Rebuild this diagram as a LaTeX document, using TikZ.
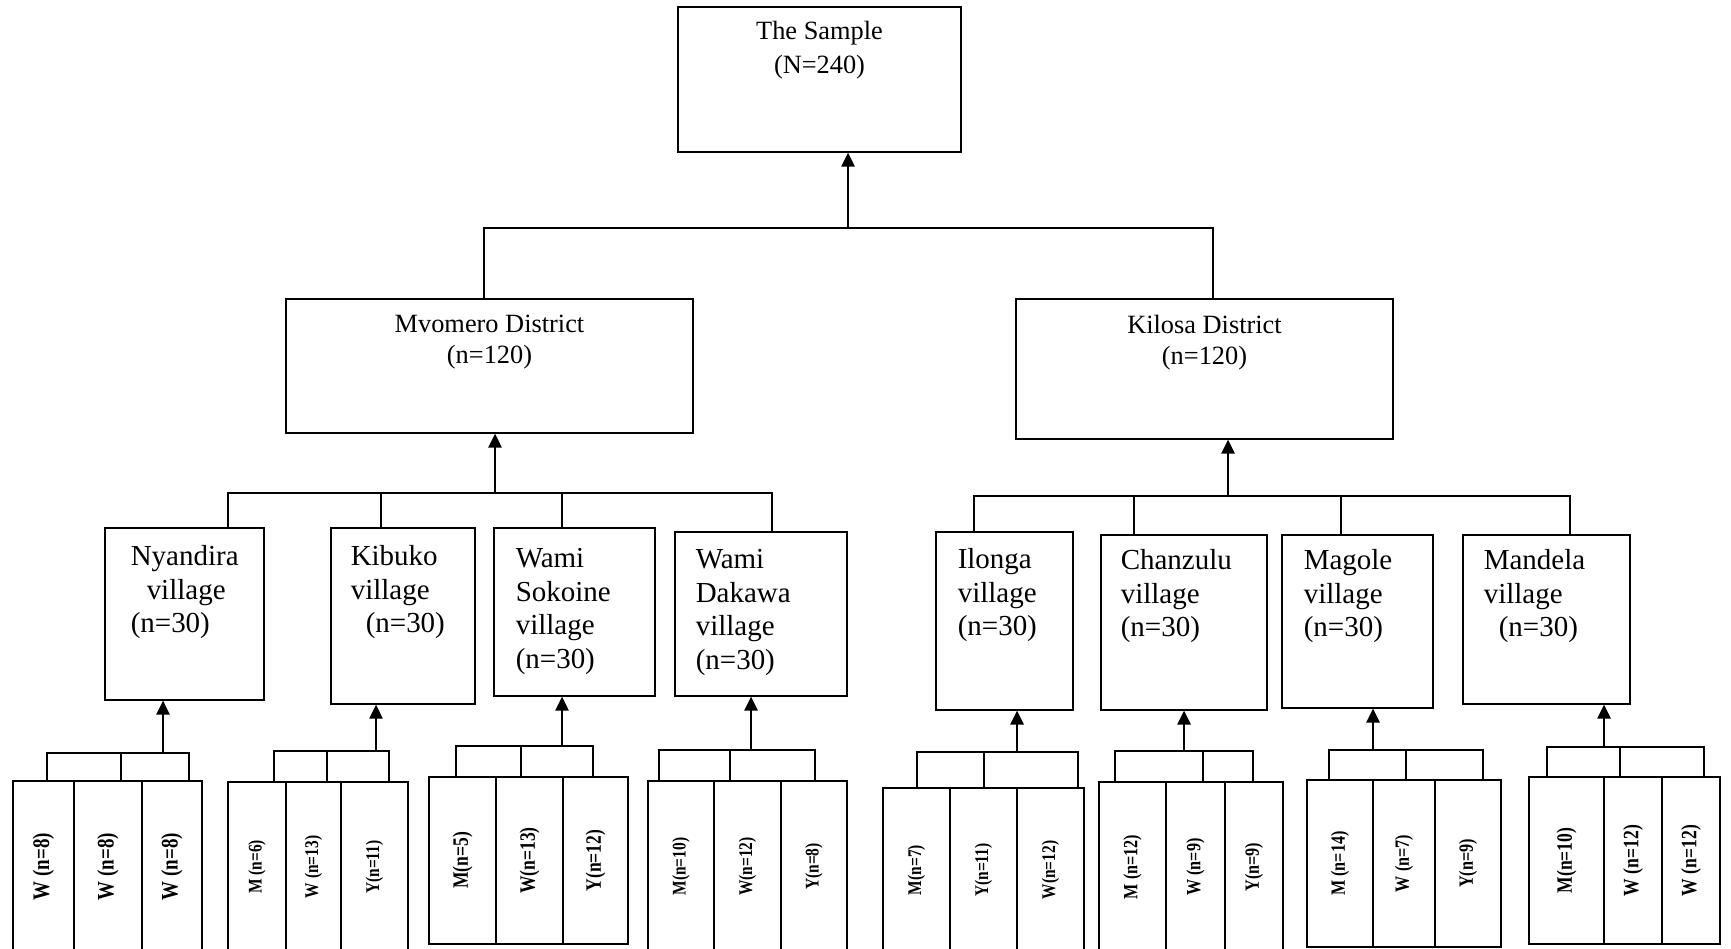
\documentclass[tikz,border=0pt]{standalone}
\usepackage{fontspec}
\setmainfont{Liberation Serif}
\newfontfamily\leaffont[FakeStretch=0.8]{Liberation Serif}
\usetikzlibrary{arrows.meta}
\tikzset{
  box/.style={draw, line width=0.7pt, inner sep=0pt},
  lf/.style={font=\leaffont\bfseries\fontsize{#1}{#1}\selectfont},
  leaf/.style 2 args={box, rotate=90, minimum width=#1cm, minimum height=#2cm, lf=12.5},
  toptext/.style={align=center, inner sep=0pt, anchor=north, font=\fontsize{15}{19.5}\selectfont},
  distext/.style={align=center, inner sep=0pt, anchor=north, font=\fontsize{15}{18}\selectfont},
  vtext/.style={align=left, inner sep=0pt, anchor=north west, font=\fontsize{16.5}{19}\selectfont},
  link/.style={line width=0.8pt},
  leaflink/.style={line width=1.1pt},
  uparrow/.style={line width=1.4pt, -{Triangle[length=8pt,width=7.5pt]}},
}
\begin{document}
\begin{tikzpicture}[x=0.02cm, y=-0.02cm]
  \clip (0,0) rectangle (1731,949);
  % sample and districts
  \node[box, minimum width=5.66cm, minimum height=2.90cm] (sample) at (819.5,79.5) {};
  \node[toptext] (sample-t) at ([yshift=-0.28cm]sample.north) {The Sample\\(N=240)};
  \node[box, minimum width=8.14cm, minimum height=2.68cm] (mvo) at (489.5,366) {};
  \node[distext] (mvo-t) at ([yshift=-0.32cm]mvo.north) {Mvomero District\\(n=120)};
  \node[box, minimum width=7.54cm, minimum height=2.80cm] (kil) at (1204.5,369) {};
  \node[distext] (kil-t) at ([yshift=-0.32cm]kil.north) {Kilosa District\\(n=120)};
  % villages
  \node[box, minimum width=3.18cm, minimum height=3.44cm] (nya) at (184.5,614) {};
  \node[box, minimum width=2.88cm, minimum height=3.52cm] (kib) at (403,616) {};
  \node[box, minimum width=3.22cm, minimum height=3.36cm] (wso) at (574.5,612) {};
  \node[box, minimum width=3.44cm, minimum height=3.28cm] (wda) at (761,614) {};
  \node[box, minimum width=2.74cm, minimum height=3.56cm] (ilo) at (1004.5,621) {};
  \node[box, minimum width=3.32cm, minimum height=3.50cm] (cha) at (1184,622.5) {};
  \node[box, minimum width=3.02cm, minimum height=3.46cm] (mag) at (1357.5,621.5) {};
  \node[box, minimum width=3.34cm, minimum height=3.38cm] (man) at (1546.5,619.5) {};
  \node[vtext] (nya-t) at ([shift={(26,18)}]nya.north west) {Nyandira\\\hspace*{0.32cm}village\\(n=30)};
  \node[vtext] (kib-t) at ([shift={(20,18)}]kib.north west) {Kibuko\\village\\\hspace*{0.3cm}(n=30)};
  \node[vtext] (wso-t) at ([shift={(22,21)}]wso.north west) {Wami\\Sokoine\\village\\(n=30)};
  \node[vtext] (wda-t) at ([shift={(21,18)}]wda.north west) {Wami\\Dakawa\\village\\(n=30)};
  \node[vtext] (ilo-t) at ([shift={(22,17)}]ilo.north west) {Ilonga\\village\\(n=30)};
  \node[vtext] (cha-t) at ([shift={(20,15)}]cha.north west) {Chanzulu\\village\\(n=30)};
  \node[vtext] (mag-t) at ([shift={(22,15)}]mag.north west) {Magole\\village\\(n=30)};
  \node[vtext] (man-t) at ([shift={(21,15)}]man.north west) {Mandela\\village\\\hspace*{0.3cm}(n=30)};
  % groups
  \node[leaf={3.42}{1.22}, lf=13.5] (l1a) at (43.5,866.5) {W (n=8)};
  \node[leaf={3.42}{1.36}, lf=13.5] (l1b) at (108,866.5) {W (n=8)};
  \node[leaf={3.42}{1.20}, lf=13.5] (l1c) at (172,866.5) {W (n=8)};
  \node[leaf={3.40}{1.16}, lf=11] (l2a) at (257,867) {M (n=6)};
  \node[leaf={3.40}{1.10}, lf=11] (l2b) at (313.5,867) {W (n=13)};
  \node[leaf={3.40}{1.34}, lf=11] (l2c) at (374.5,867) {Y(n=11)};
  \node[leaf={3.34}{1.34}] (l3a) at (462.5,860.5) {M(n=5)};
  \node[leaf={3.34}{1.34}] (l3b) at (529.5,860.5) {W(n=13)};
  \node[leaf={3.34}{1.30}] (l3c) at (595.5,860.5) {Y(n=12)};
  \node[leaf={3.42}{1.32}, lf=11] (l4a) at (681,866.5) {M(n=10)};
  \node[leaf={3.42}{1.34}, lf=11] (l4b) at (747.5,866.5) {W(n=12)};
  \node[leaf={3.42}{1.32}, lf=11] (l4c) at (814,866.5) {Y(n=8)};
  \node[leaf={3.28}{1.34}, lf=11] (l5a) at (916.5,870) {M(n=7)};
  \node[leaf={3.28}{1.34}, lf=11] (l5b) at (983.5,870) {Y(n=11)};
  \node[leaf={3.28}{1.34}, lf=11] (l5c) at (1050.5,870) {W(n=12)};
  \node[leaf={3.40}{1.34}, lf=11.5] (l6a) at (1132.5,867) {M (n=12)};
  \node[leaf={3.40}{1.18}, lf=11.5] (l6b) at (1195.5,867) {W (n=9)};
  \node[leaf={3.40}{1.16}, lf=11.5] (l6c) at (1254,867) {Y(n=9)};
  \node[leaf={3.34}{1.32}, lf=11.5] (l7a) at (1340,863.5) {M (n=14)};
  \node[leaf={3.34}{1.24}, lf=11.5] (l7b) at (1404,863.5) {W (n=7)};
  \node[leaf={3.34}{1.32}, lf=11.5] (l7c) at (1468,863.5) {Y(n=9)};
  \node[leaf={3.34}{1.50}] (l8a) at (1566.5,860.5) {M(n=10)};
  \node[leaf={3.34}{1.16}] (l8b) at (1633,860.5) {W (n=12)};
  \node[leaf={3.34}{1.16}] (l8c) at (1691,860.5) {W (n=12)};
  % bar points
  \coordinate (tl) at (484,228); \coordinate (tr) at (1213,228); \coordinate (tj) at (848,228);
  \coordinate (ml) at (228,493); \coordinate (m2) at (381,493); \coordinate (m3) at (562,493);
  \coordinate (mr) at (772,493); \coordinate (mj) at (495,493);
  \coordinate (kl) at (974,496); \coordinate (k2) at (1134,496); \coordinate (k3) at (1341,496);
  \coordinate (kr) at (1570,496); \coordinate (kj) at (1228,496);
  \coordinate (g1l) at (47,753);   \coordinate (g1m) at (121,753);  \coordinate (g1r) at (189,753);  \coordinate (g1j) at (163,753);
  \coordinate (g2l) at (274,751);  \coordinate (g2m) at (327,751);  \coordinate (g2r) at (389,751);  \coordinate (g2j) at (376,751);
  \coordinate (g3l) at (456,746);  \coordinate (g3m) at (521,746);  \coordinate (g3r) at (593,746);  \coordinate (g3j) at (562,746);
  \coordinate (g4l) at (659,750);  \coordinate (g4m) at (730,750);  \coordinate (g4r) at (815,750);  \coordinate (g4j) at (751,750);
  \coordinate (g5l) at (917,752);  \coordinate (g5m) at (984,752);  \coordinate (g5r) at (1078,752); \coordinate (g5j) at (1017,752);
  \coordinate (g6l) at (1115,751); \coordinate (g6m) at (1203,751); \coordinate (g6r) at (1253,751); \coordinate (g6j) at (1184,751);
  \coordinate (g7l) at (1329,750); \coordinate (g7m) at (1406,750); \coordinate (g7r) at (1483,750); \coordinate (g7j) at (1373,750);
  \coordinate (g8l) at (1547,747); \coordinate (g8m) at (1620,747); \coordinate (g8r) at (1704,747); \coordinate (g8j) at (1604,747);
  \begin{scope}[link]
    \draw (tl |- mvo.north) -- (tl) -- (tr) -- (tr |- kil.north);
    \draw (ml |- nya.north) -- (ml) -- (mr) -- (mr |- wda.north);
    \draw (m2) -- (m2 |- kib.north);
    \draw (m3) -- (m3 |- wso.north);
    \draw (kl |- ilo.north) -- (kl) -- (kr) -- (kr |- man.north);
    \draw (k2) -- (k2 |- cha.north);
    \draw (k3) -- (k3 |- mag.north);
  \end{scope}
  \begin{scope}[leaflink]
    \draw (g1l |- l1a.east) -- (g1l) -- (g1r) -- (g1r |- l1c.east); \draw (g1m) -- (g1m |- l1b.east);
    \draw (g2l |- l2a.east) -- (g2l) -- (g2r) -- (g2r |- l2c.east); \draw (g2m) -- (g2m |- l2b.east);
    \draw (g3l |- l3a.east) -- (g3l) -- (g3r) -- (g3r |- l3c.east); \draw (g3m) -- (g3m |- l3b.east);
    \draw (g4l |- l4a.east) -- (g4l) -- (g4r) -- (g4r |- l4c.east); \draw (g4m) -- (g4m |- l4b.east);
    \draw (g5l |- l5a.east) -- (g5l) -- (g5r) -- (g5r |- l5c.east); \draw (g5m) -- (g5m |- l5b.east);
    \draw (g6l |- l6a.east) -- (g6l) -- (g6r) -- (g6r |- l6c.east); \draw (g6m) -- (g6m |- l6b.east);
    \draw (g7l |- l7a.east) -- (g7l) -- (g7r) -- (g7r |- l7c.east); \draw (g7m) -- (g7m |- l7b.east);
    \draw (g8l |- l8a.east) -- (g8l) -- (g8r) -- (g8r |- l8c.east); \draw (g8m) -- (g8m |- l8b.east);
  \end{scope}
  \begin{scope}[uparrow]
    \draw (tj) -- (tj |- sample.south);
    \draw (mj) -- (mj |- mvo.south);
    \draw (kj) -- (kj |- kil.south);
    \draw (g1j) -- (g1j |- nya.south);
    \draw (g2j) -- (g2j |- kib.south);
    \draw (g3j) -- (g3j |- wso.south);
    \draw (g4j) -- (g4j |- wda.south);
    \draw (g5j) -- (g5j |- ilo.south);
    \draw (g6j) -- (g6j |- cha.south);
    \draw (g7j) -- (g7j |- mag.south);
    \draw (g8j) -- (g8j |- man.south);
  \end{scope}
\end{tikzpicture}
\end{document}
